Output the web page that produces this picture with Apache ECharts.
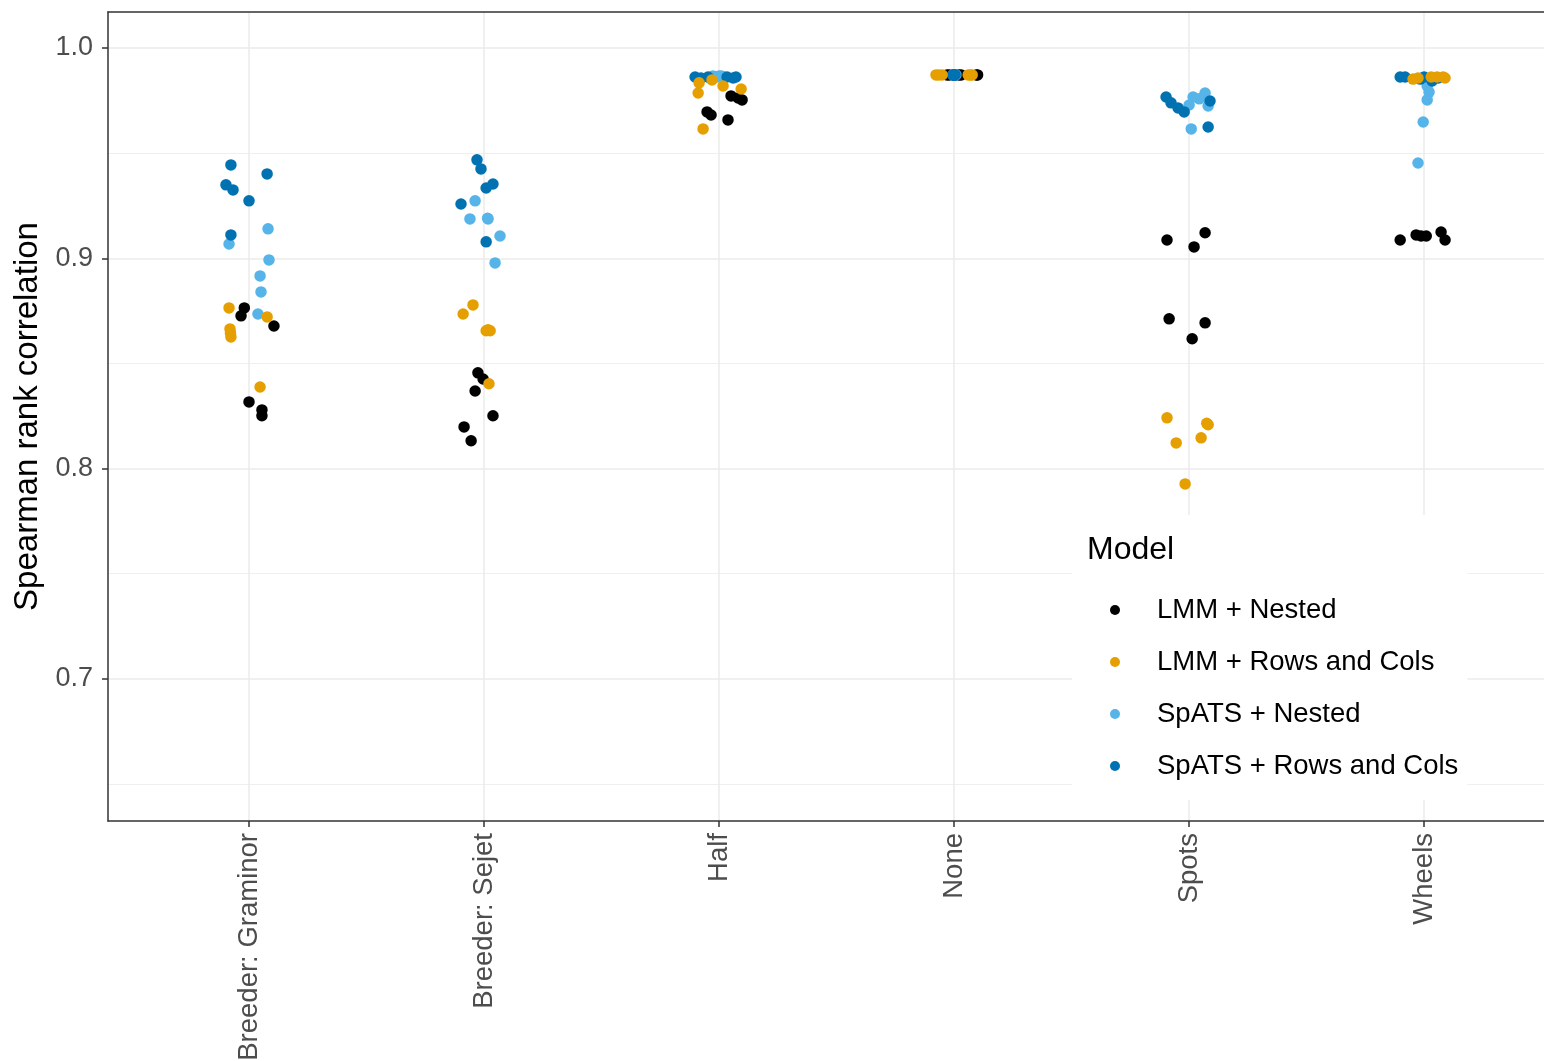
<!DOCTYPE html>
<html>
<head>
<meta charset="utf-8">
<script src="https://cdn.jsdelivr.net/npm/echarts@6/dist/echarts.min.js"></script>
<style>
html,body{margin:0;padding:0;background:#fff;overflow:hidden;}
#chart{width:1544px;height:1061px;}
</style>
</head>
<body>
<div id="chart"></div>
<script>
// ---- data ----
const categories = ['Breeder: Graminor', 'Breeder: Sejet', 'Half', 'None', 'Spots', 'Wheels'];
const modelNames = ['LMM + Nested', 'LMM + Rows and Cols', 'SpATS + Nested', 'SpATS + Rows and Cols'];
const modelColors = ['#000000', '#E69F00', '#56B4E9', '#0072B2'];
const yMajorTicks = [0.7, 0.8, 0.9, 1.0];
const yMinorTicks = [0.65, 0.75, 0.85, 0.95];

// values per category (6 replicates each)
const lmmNested = [
  [0.8764, 0.8726, 0.8678, 0.8317, 0.8279, 0.8251],
  [0.8455, 0.8426, 0.8369, 0.8251, 0.8198, 0.8132],
  [0.9696, 0.9681, 0.9658, 0.9772, 0.9762, 0.9753],
  [0.9872, 0.9872, 0.9872, 0.9872, 0.9872, 0.9872],
  [0.9087, 0.9054, 0.9121, 0.8712, 0.8693, 0.8617],
  [0.9087, 0.9111, 0.9106, 0.9125, 0.9087, 0.9106]
];
const lmmNestedJitter = [
  [-0.020, -0.034, 0.106, 0.000, 0.055, 0.055],
  [-0.026, -0.004, -0.038, 0.038, -0.085, -0.055],
  [-0.051, -0.034, 0.038, 0.051, 0.081, 0.098],
  [-0.030, -0.020, 0.020, 0.030, 0.100, 0.095],
  [-0.094, 0.021, 0.068, -0.085, 0.068, 0.013],
  [-0.102, -0.034, 0.009, 0.072, 0.089, -0.013]
];

const lmmRowsCols = [
  [0.8764, 0.8664, 0.8626, 0.8645, 0.8721, 0.8388],
  [0.8778, 0.8735, 0.8655, 0.8655, 0.8403, 0.8660],
  [0.9834, 0.9786, 0.9819, 0.9805, 0.9615, 0.9848],
  [0.9872, 0.9872, 0.9872, 0.9872, 0.9872, 0.9872],
  [0.8241, 0.8208, 0.8146, 0.8122, 0.7927, 0.8215],
  [0.9852, 0.9857, 0.9862, 0.9862, 0.9862, 0.9857]
];
const lmmRowsColsJitter = [
  [-0.085, -0.081, -0.077, -0.079, 0.077, 0.047],
  [-0.047, -0.089, 0.009, 0.026, 0.021, 0.017],
  [-0.085, -0.089, 0.017, 0.094, -0.068, -0.030],
  [-0.077, -0.051, 0.060, 0.077, -0.065, 0.070],
  [-0.094, 0.081, 0.051, -0.055, -0.017, 0.075],
  [-0.047, -0.026, 0.030, 0.055, 0.081, 0.089]
];

const spatsNested = [
  [0.9068, 0.9140, 0.8992, 0.8916, 0.8840, 0.8735],
  [0.9273, 0.9187, 0.9187, 0.9106, 0.8978, 0.9190],
  [0.9867, 0.9867, 0.9862, 0.9867, 0.9862, 0.9857],
  [0.9872, 0.9872, 0.9872, 0.9872, 0.9872, 0.9872],
  [0.9767, 0.9786, 0.9724, 0.9615, 0.9758, 0.9729],
  [0.9819, 0.9790, 0.9753, 0.9648, 0.9453, 0.9857]
];
const spatsNestedJitter = [
  [-0.085, 0.081, 0.085, 0.047, 0.051, 0.038],
  [-0.038, -0.060, 0.017, 0.068, 0.047, 0.015],
  [-0.026, 0.000, -0.010, 0.010, 0.020, -0.040],
  [0.000, 0.005, -0.005, 0.002, -0.002, 0.008],
  [0.017, 0.068, 0.081, 0.009, 0.043, 0.000],
  [0.013, 0.021, 0.013, -0.004, -0.026, -0.009]
];

const spatsRowsCols = [
  [0.9444, 0.9401, 0.9349, 0.9325, 0.9273, 0.9111],
  [0.9468, 0.9425, 0.9353, 0.9334, 0.9258, 0.9078],
  [0.9862, 0.9857, 0.9862, 0.9862, 0.9857, 0.9862],
  [0.9872, 0.9872, 0.9872, 0.9872, 0.9872, 0.9872],
  [0.9767, 0.9739, 0.9715, 0.9696, 0.9748, 0.9624],
  [0.9862, 0.9862, 0.9862, 0.9843, 0.9852, 0.9857]
];
const spatsRowsColsJitter = [
  [-0.077, 0.077, -0.098, -0.068, 0.000, -0.077],
  [-0.030, -0.013, 0.038, 0.009, -0.098, 0.009],
  [-0.102, -0.077, -0.047, 0.034, 0.060, 0.072],
  [0.000, -0.004, 0.004, -0.002, 0.002, 0.000],
  [-0.098, -0.077, -0.047, -0.021, 0.089, 0.081],
  [-0.102, -0.081, 0.000, 0.034, -0.017, 0.060]
];

// ---- build ----
const FONT = "'Liberation Sans', Arial, sans-serif";
function toPoints(values, jitter) {
  const out = [];
  values.forEach((vals, ci) => vals.forEach((v, k) => out.push([ci + jitter[ci][k], v])));
  return out;
}
const modelValues = [lmmNested, lmmRowsCols, spatsNested, spatsRowsCols];
const modelJitter = [lmmNestedJitter, lmmRowsColsJitter, spatsNestedJitter, spatsRowsColsJitter];
// draw order: black, light blue, dark blue, orange (orange on top)
const drawOrder = [0, 2, 3, 1];
const series = drawOrder.map(i => ({
  name: modelNames[i],
  type: 'scatter',
  symbol: 'circle',
  symbolSize: 11.5,
  itemStyle: { color: modelColors[i], opacity: 1 },
  data: toPoints(modelValues[i], modelJitter[i]),
  z: 3
}));

const yMin = 0.6324, yMax = 1.0171;
const xMin = -0.6, xMax = 5.51;   // panel is cut off at the right edge of the image
const frameLine = { show: true, onZero: false, lineStyle: { color: '#333333', width: 1.5 } };
const tickIdx = categories.map((c, i) => i);

const chart = echarts.init(document.getElementById('chart'), null, { renderer: 'canvas' });
chart.setOption({
  animation: false,
  backgroundColor: '#ffffff',
  grid: { left: 108, top: 12, bottom: 240, right: 0, show: false, containLabel: false, outerBoundsMode: 'none' },
  xAxis: [{
    type: 'value', position: 'bottom',
    min: xMin, max: xMax,
    axisLine: frameLine,
    axisTick: { show: true, length: 6, lineStyle: { color: '#333333', width: 1.5 }, customValues: tickIdx },
    axisLabel: {
      customValues: tickIdx,
      formatter: v => categories[Math.round(v)],
      rotate: 90, margin: 12, fontSize: 27.5, color: '#4d4d4d', fontFamily: FONT
    },
    splitLine: { show: true, lineStyle: { color: '#ebebeb', width: 1.5 } }
  }, {
    type: 'value', position: 'top',
    min: xMin, max: xMax,
    axisLine: frameLine,
    axisTick: { show: false },
    axisLabel: { show: false },
    splitLine: { show: false }
  }],
  yAxis: [{
    type: 'value', position: 'left',
    min: yMin, max: yMax,
    name: 'Spearman rank correlation',
    nameLocation: 'middle', nameGap: 55, nameRotate: 90,
    nameTextStyle: { fontSize: 33, color: '#000000', fontFamily: FONT },
    axisLine: frameLine,
    axisTick: { show: true, length: 6, lineStyle: { color: '#333333', width: 1.5 }, customValues: yMajorTicks },
    axisLabel: {
      customValues: yMajorTicks,
      formatter: v => v.toFixed(1),
      margin: 15, fontSize: 27, color: '#4d4d4d', fontFamily: FONT
    },
    splitLine: { show: true, lineStyle: { color: '#ebebeb', width: 1.5 } }
  }, {
    type: 'value', position: 'left',
    min: yMin, max: yMax,
    axisLine: { show: false, onZero: false },
    axisTick: { show: false, customValues: yMinorTicks },
    axisLabel: { show: false, customValues: yMinorTicks },
    splitLine: { show: true, lineStyle: { color: '#ebebeb', width: 0.8 } }
  }],
  legend: {
    data: modelNames,
    orient: 'vertical',
    left: 1072, top: 515,
    padding: [79, 9, 18, 38],
    backgroundColor: '#ffffff',
    itemWidth: 74, itemHeight: 10, itemGap: 20,
    icon: 'circle',
    selectedMode: false,
    textStyle: { fontSize: 27.5, color: '#000000', fontFamily: FONT, lineHeight: 32 },
    z: 10
  },
  graphic: [{
    type: 'text', left: 1087, top: 534, z: 20,
    style: { text: 'Model', fontSize: 32, fill: '#000000', fontFamily: FONT }
  }],
  series: series
});
</script>
</body>
</html>
